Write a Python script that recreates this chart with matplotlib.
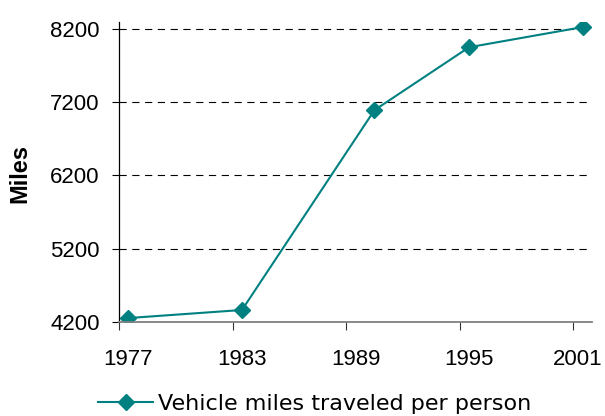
import matplotlib.pyplot as plt
from matplotlib.ticker import FixedLocator
from matplotlib.transforms import ScaledTranslation

# Survey years and miles per person.
years = [1977, 1983, 1990, 1995, 2001]
miles = [4250, 4360, 7090, 7950, 8225]

tick_years = [1977, 1983, 1989, 1995, 2001]
tick_labels = ['1977', '1983', '1989', '1995', '2001']
y_ticks = [4200, 5200, 6200, 7200, 8200]
series_name = 'Vehicle miles traveled per person'

teal = '#008080'

fig = plt.figure(figsize=(6.05, 4.16), dpi=100)
ax = fig.add_axes([119 / 605, 94.3 / 416, 473 / 605, 299.7 / 416])

ax.plot(years, miles, color=teal, lw=1.5, marker='D', markersize=8,
        label=series_name)

ax.set_xlim(1976.5, 2001.5)
ax.set_ylim(4200, 8295)

# Tick marks sit half a year before each labelled year.
ax.xaxis.set_major_locator(FixedLocator([y - 0.5 for y in tick_years]))
ax.xaxis.set_major_formatter(plt.NullFormatter())
ax.xaxis.set_minor_locator(FixedLocator(tick_years))
ax.set_xticklabels(tick_labels, minor=True)
ax.tick_params(axis='x', which='major', direction='out', length=5.5,
               width=0.8, color='#333333')
ax.tick_params(axis='x', which='minor', length=0, pad=20, labelsize=16,
               labelfontfamily='Liberation Sans')
# the last label is pulled in a little so it stays inside the figure
last = ax.get_xticklabels(minor=True)[-1]
last.set_transform(last.get_transform()
                   + ScaledTranslation(-5 / 100, 0, fig.dpi_scale_trans))

ax.set_yticks(y_ticks)
ax.set_yticklabels([str(v) for v in y_ticks])
ax.tick_params(axis='y', direction='out', length=5, width=0.8, pad=9,
               labelsize=16, labelfontfamily='Liberation Sans')

for v in y_ticks[1:]:
    ax.axhline(v, color='black', lw=0.8, linestyle=(0, (6.5, 5)), zorder=0)

ax.spines['top'].set_visible(False)
ax.spines['right'].set_visible(False)
ax.spines['left'].set_color('black')
ax.spines['left'].set_linewidth(0.9)
ax.spines['bottom'].set_color('#808080')
ax.spines['bottom'].set_linewidth(1.3)

fig.text(20 / 605, 1 - 173.5 / 416, 'Miles', rotation=90, ha='center',
         va='center', fontsize=17, fontweight='bold',
         family='Liberation Sans')

fig.legend(loc='center left', bbox_to_anchor=(89 / 605, 1 - 404 / 416),
           frameon=False, fontsize=16, handlelength=2.5, handletextpad=0.2,
           borderaxespad=0)

fig.savefig('out.png', dpi=100)
